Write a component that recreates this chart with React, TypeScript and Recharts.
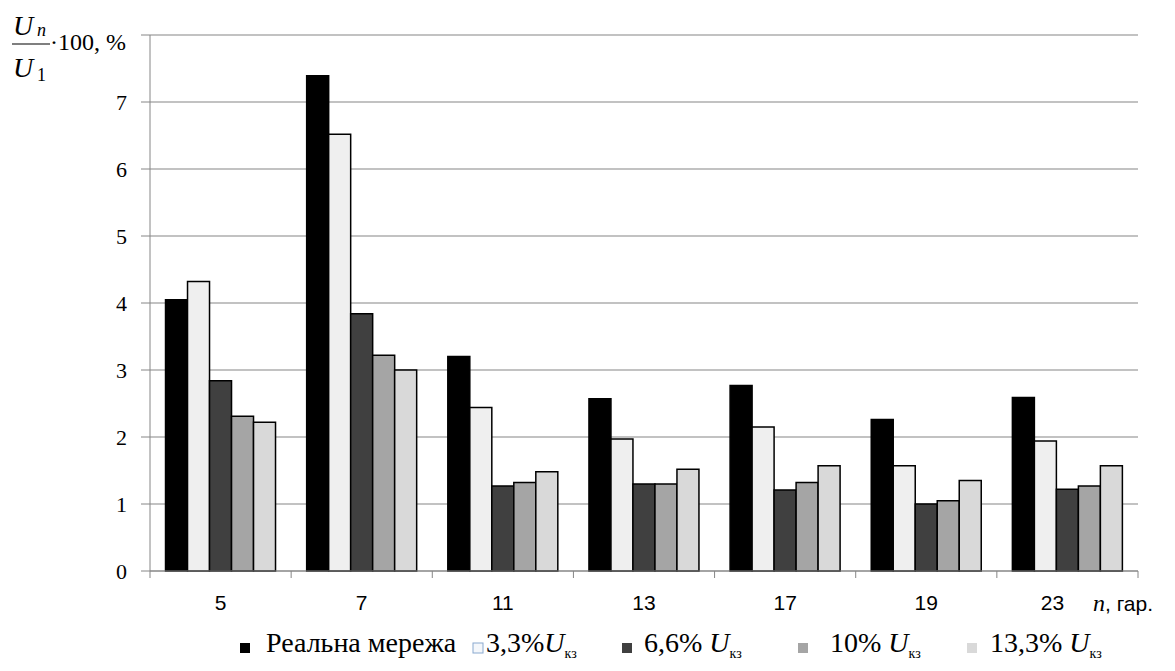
import { BarChart, Bar, XAxis, YAxis, CartesianGrid } from 'recharts';

const harmonics = ['5', '7', '11', '13', '17', '19', '23'];
const realNetwork = [4.05, 7.39, 3.2, 2.57, 2.77, 2.26, 2.59];
const uk33 = [4.32, 6.52, 2.44, 1.97, 2.15, 1.57, 1.94];
const uk66 = [2.84, 3.84, 1.27, 1.3, 1.21, 1.0, 1.22];
const uk10 = [2.31, 3.22, 1.32, 1.3, 1.32, 1.05, 1.27];
const uk133 = [2.22, 3.0, 1.48, 1.52, 1.57, 1.35, 1.57];
const yTicks = [0, 1, 2, 3, 4, 5, 6, 7, 8];

const data = harmonics.map((h, i) => ({
  n: h,
  real: realNetwork[i],
  u33: uk33[i],
  u66: uk66[i],
  u10: uk10[i],
  u133: uk133[i],
}));

const series = [
  { key: 'real', prefix: 'Реальна мережа', withU: false, fill: '#000000', legendFill: '#000000', legendStroke: 'none', legendX: 232, textX: 258 },
  { key: 'u33', prefix: '3,3%', withU: true, fill: '#efefef', legendFill: '#f4f7fb', legendStroke: '#8aa9cf', legendX: 465, textX: 478 },
  { key: 'u66', prefix: '6,6% ', withU: true, fill: '#404040', legendFill: '#404040', legendStroke: 'none', legendX: 614, textX: 636 },
  { key: 'u10', prefix: '10% ', withU: true, fill: '#a5a5a5', legendFill: '#a5a5a5', legendStroke: 'none', legendX: 790, textX: 822 },
  { key: 'u133', prefix: '13,3% ', withU: true, fill: '#d9d9d9', legendFill: '#d9d9d9', legendStroke: 'none', legendX: 959, textX: 982 },
];

const GRID = '#868686';
const SERIF = '"Liberation Serif", "DejaVu Serif", serif';
const SANS = '"Liberation Sans", Arial, sans-serif';

// category ticks sit on band edges, label under the band centre
function HarmonicTick(props: any) {
  const { x, y, payload, index } = props;
  const half = payload?.offset ?? 70.5;
  const last = index === harmonics.length - 1;
  return (
    <g>
      <line x1={x - half} x2={x - half} y1={y} y2={y + 7} stroke={GRID} />
      {last && <line x1={x + half} x2={x + half} y1={y} y2={y + 7} stroke={GRID} />}
      <text
        x={last ? x - 15 : x}
        y={y + 39}
        textAnchor="middle"
        fontFamily={SANS}
        fontSize={21}
        fill="#000"
      >
        {payload.value}
      </text>
    </g>
  );
}

export default function App() {
  return (
    <div style={{ position: 'relative', width: 1160, height: 655 }}>
      <BarChart
        width={1160}
        height={623}
        data={data}
        margin={{ top: 27, right: 30, bottom: 0, left: 0 }}
        barCategoryGap="11%"
        barGap={0}
      >
        <CartesianGrid vertical={false} stroke={GRID} strokeWidth={1.2} />
        <XAxis
          dataKey="n"
          height={60}
          stroke={GRID}
          tickLine={false}
          tickSize={0}
          tickMargin={0}
          interval={0}
          tick={<HarmonicTick />}
        />
        <YAxis
          width={142}
          domain={[0, 8]}
          ticks={yTicks}
          interval={0}
          stroke={GRID}
          tickSize={9}
          tickMargin={14}
          tickFormatter={(v: number) => (v === 8 ? '' : String(v))}
          tick={{ fontFamily: SERIF, fontSize: 22, fill: '#000' }}
        />
        {series.map((s) => (
          <Bar
            key={s.key}
            dataKey={s.key}
            fill={s.fill}
            stroke="#000"
            strokeWidth={1.5}
            isAnimationActive={false}
          />
        ))}
      </BarChart>
      <svg
        width={1160}
        height={655}
        style={{ position: 'absolute', left: 0, top: 0, pointerEvents: 'none' }}
      >
        <g fontFamily={SERIF} fill="#000">
          <text x={5} y={27} fontSize={28} fontStyle="italic">U</text>
          <text x={29} y={28} fontSize={18} fontStyle="italic">n</text>
          <line x1={4} x2={42} y1={36} y2={36} stroke="#000" strokeWidth={1.2} />
          <text x={5} y={69} fontSize={28} fontStyle="italic">U</text>
          <text x={29} y={73} fontSize={18}>1</text>
          <text x={42} y={42} fontSize={24}>·100, %</text>
        </g>
        <text x={1085} y={603} fill="#000">
          <tspan fontFamily={SERIF} fontStyle="italic" fontSize={24}>n</tspan>
          <tspan fontFamily={SANS} fontSize={21}>, гар.</tspan>
        </text>
        {series.map((s) => (
          <g key={s.key}>
            <rect
              x={s.legendX}
              y={635}
              width={10}
              height={10}
              fill={s.legendFill}
              stroke={s.legendStroke}
            />
            <text x={s.textX} y={644} fontFamily={SERIF} fontSize={28} fill="#000">
              {s.prefix}
              {s.withU && <tspan fontStyle="italic">U</tspan>}
              {s.withU && (
                <tspan fontSize={14} dy={6}>кз</tspan>
              )}
            </text>
          </g>
        ))}
      </svg>
    </div>
  );
}
